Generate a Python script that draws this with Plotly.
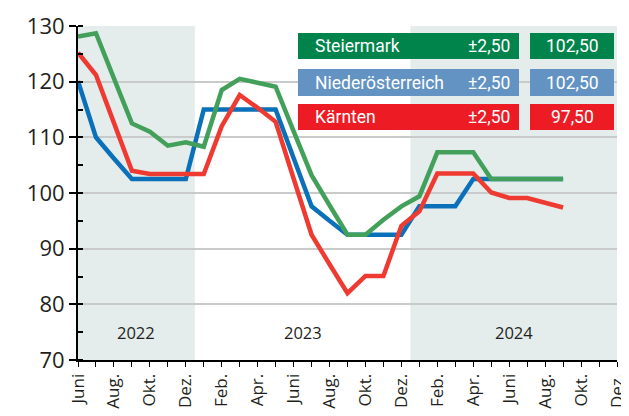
import plotly.graph_objects as go

months = list(range(28))  # Juni 2022 .. Sep 2024, month index
tick_labels = ["Juni", "Aug.", "Okt.", "Dez.", "Feb.", "Apr.", "Juni", "Aug.",
               "Okt.", "Dez.", "Feb.", "Apr.", "Juni", "Aug.", "Okt.", "Dez."]
tick_positions = list(range(0, 31, 2))

steiermark = [128.1, 128.7, 120.6, 112.5, 111.0, 108.5, 109.1, 108.3, 118.5, 120.5,
              119.8, 119.1, 111.1, 103.2, 97.8, 92.5, 92.5, 95.2, 97.6, 99.4,
              107.3, 107.3, 107.3, 102.5, 102.5, 102.5, 102.5, 102.5]
niederoesterreich = [120.1, 110.0, 106.2, 102.5, 102.5, 102.5, 102.5, 115.0, 115.0, 115.0,
                     115.0, 115.0, 106.3, 97.6, 95.0, 92.5, 92.5, 92.5, 92.5, 97.6,
                     97.6, 97.6, 102.5, 102.5, 102.5, 102.5, 102.5, 102.5]
kaernten = [125.2, 121.2, 112.6, 104.0, 103.4, 103.4, 103.4, 103.4, 112.0, 117.6,
            115.3, 112.8, 102.6, 92.5, 87.2, 82.0, 85.1, 85.1, 94.1, 96.7,
            103.5, 103.5, 103.5, 100.1, 99.1, 99.1, 98.3, 97.4]

series_names = ["Steiermark", "Niederösterreich", "Kärnten"]
series_change = ["±2,50", "±2,50", "±2,50"]
series_last = ["102,50", "102,50", "97,50"]
years = ["2022", "2023", "2024"]
year_bounds = [(0, 6.5), (6.5, 18.5), (18.5, 30)]

line_colors = ["#43a05a", "#0a70b9", "#ee3a31"]
box_colors = ["#00844b", "#6393c3", "#ed1c24"]

fig = go.Figure()

# shaded year bands
for (a, b), shade in zip(year_bounds, [True, False, True]):
    if shade:
        fig.add_shape(type="rect", xref="x", yref="y", x0=a, x1=b, y0=70, y1=130,
                      fillcolor="#e4ecec", line_width=0, layer="below")

for data, i in [(niederoesterreich, 1), (kaernten, 2), (steiermark, 0)]:
    fig.add_trace(go.Scatter(x=months, y=data, mode="lines", name=series_names[i],
                             line=dict(color=line_colors[i], width=4.5),
                             showlegend=False, hoverinfo="skip"))

# year labels
for (a, b), yr in zip(year_bounds, years):
    fig.add_annotation(x=(a + b) / 2, y=75, xref="x", yref="y", text=yr,
                       showarrow=False, font=dict(size=16.5, color="#231f20", family="Open Sans"))

# page body has an 8px margin; figure is sized so the plot lands where the reference has it
OFF = 8
W, H = 621, 408
L, R, T, B = 70, 12, 18, 56
pw, ph = W - L - R, H - T - B


def px(x):
    return (x - OFF - L) / pw


def py(y):
    return (H - B - (y - OFF)) / ph


box_rows = [(33, 59), (69, 96), (104, 130)]
for i, (y0, y1) in enumerate(box_rows):
    fig.add_shape(type="rect", xref="paper", yref="paper", x0=px(298), x1=px(519),
                  y0=py(y1), y1=py(y0), fillcolor=box_colors[i], line_width=0)
    fig.add_shape(type="rect", xref="paper", yref="paper", x0=px(530), x1=px(614),
                  y0=py(y1), y1=py(y0), fillcolor=box_colors[i], line_width=0)
    yc = py((y0 + y1) / 2)
    f = dict(size=17.5, color="white", family="Roboto")
    fig.add_annotation(x=px(313), y=yc, xref="paper", yref="paper", text=series_names[i],
                       xanchor="left", yanchor="middle", showarrow=False, font=f)
    fig.add_annotation(x=px(512), y=yc, xref="paper", yref="paper", text=series_change[i],
                       xanchor="right", yanchor="middle", showarrow=False, font=f)
    fig.add_annotation(x=px(572), y=yc, xref="paper", yref="paper", text=series_last[i],
                       xanchor="center", yanchor="middle", showarrow=False, font=f)

fig.update_layout(
    width=W, height=H,
    margin=dict(l=L, r=R, t=T, b=B, autoexpand=False),
    paper_bgcolor="white", plot_bgcolor="white",
    font=dict(family="Open Sans", color="#231f20"),
)
fig.update_xaxes(range=[0, 30], tickmode="array", tickvals=tick_positions, ticktext=tick_labels,
                 tickangle=-90, tickfont=dict(size=17), ticks="outside", ticklen=5, tickwidth=1,
                 tickcolor="black", showline=True, linecolor="black", linewidth=2,
                 showgrid=False, zeroline=False, automargin=False,
                 minor=dict(tickmode="linear", dtick=1, ticks="outside", ticklen=5,
                            tickcolor="black", tickwidth=1))
fig.update_yaxes(range=[70, 130], tick0=70, dtick=10, tickfont=dict(size=22),
                 ticks="outside", ticklen=7, tickwidth=1.5, tickcolor="black",
                 showline=True, linecolor="black", linewidth=2, automargin=False,
                 showgrid=True, gridcolor="#c9cbcb", gridwidth=1.5, zeroline=False,
                 minor=dict(dtick=5, ticks="inside", ticklen=5, tickcolor="black",
                            tickwidth=1.5, showgrid=False))

fig.write_html("out.html")
